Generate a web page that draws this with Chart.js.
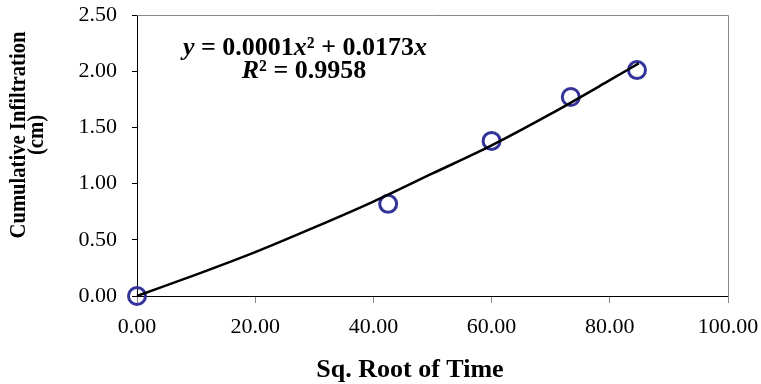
<!DOCTYPE html>
<html>
<head>
<meta charset="utf-8">
<script src="https://cdn.jsdelivr.net/npm/chart.js@4.4.1/dist/chart.umd.min.js"></script>
<style>
  html, body { margin: 0; padding: 0; background: #fff; }
</style>
</head>
<body>
<canvas id="infChart" width="761" height="384"></canvas>
<script>
// valores
var sqrtTime = [0, 42.5, 60.0, 73.4, 84.6];
var cumInfiltration = [0, 0.82, 1.38, 1.77, 2.01];

// linea de tendencia polinomica
var trendX = [0, 10, 20, 30, 40, 50, 60, 70, 80, 84.9];
var trendY = [0, 0.19, 0.39, 0.61, 0.84, 1.09, 1.34, 1.62, 1.92, 2.07];

var xTicks = [0, 20, 40, 60, 80, 100];
var yTicks = [0, 0.5, 1, 1.5, 2, 2.5];

var xTitle = 'Sq. Root of Time';
var yTitle = ['Cumulative Infiltration', '(cm)'];
// [texto, cursiva]
var eqLine1 = [['y', true], [' = 0.0001', false], ['x', true], ['\u00b2', false], [' + 0.0173', false], ['x', true]];
var eqLine2 = [['R', true], ['\u00b2 = 0.9958', false]];

var serif = "'Liberation Serif', 'Times New Roman', serif";

function drawRich(ctx, parts, cx, y, size) {
    var w = 0;
    parts.forEach(function (p) {
        ctx.font = (p[1] ? 'italic ' : '') + 'bold ' + size + 'px ' + serif;
        w += ctx.measureText(p[0]).width;
    });
    var x = cx - w / 2;
    ctx.textAlign = 'left';
    parts.forEach(function (p) {
        ctx.font = (p[1] ? 'italic ' : '') + 'bold ' + size + 'px ' + serif;
        ctx.fillText(p[0], x, y);
        x += ctx.measureText(p[0]).width;
    });
}

var extras = {
    id: 'extras',
    beforeDatasetsDraw: function (chart) {
        var a = chart.chartArea, ctx = chart.ctx;
        ctx.save();
        ctx.strokeStyle = '#888';
        ctx.lineWidth = 1;
        ctx.beginPath();
        ctx.moveTo(a.left, a.top + 0.5);
        ctx.lineTo(a.right + 0.5, a.top + 0.5);
        ctx.lineTo(a.right + 0.5, a.bottom + 7);
        ctx.stroke();
        ctx.restore();
    },
    afterDraw: function (chart) {
        var a = chart.chartArea, ctx = chart.ctx;
        ctx.save();
        ctx.fillStyle = '#000';
        ctx.textBaseline = 'alphabetic';

        // ecuacion
        drawRich(ctx, eqLine1, a.left + 168, a.top + 40, 26);
        drawRich(ctx, eqLine2, a.left + 167, a.top + 63, 26);

        // titulo eje x
        ctx.font = 'bold 26px ' + serif;
        ctx.textAlign = 'center';
        ctx.fillText(xTitle, 410, 377);

        // titulo eje y (rotado)
        ctx.font = 'bold 24px ' + serif;
        [25, 43].forEach(function (bx, i) {
            ctx.save();
            ctx.translate(bx, 135);
            ctx.rotate(-Math.PI / 2);
            ctx.scale(0.86, 1);
            ctx.fillText(yTitle[i], 0, 0);
            ctx.restore();
        });
        ctx.restore();
    }
};

var ctx = document.getElementById('infChart');
var myChart = new Chart(ctx, {
    type: 'scatter',
    data: {
        datasets: [{
            label: 'Tendencia',
            data: trendX.map(function (x, i) { return { x: x, y: trendY[i] }; }),
            showLine: true,
            pointRadius: 0,
            borderColor: '#000',
            borderWidth: 2.5,
            tension: 0.4,
            cubicInterpolationMode: 'monotone',
            fill: false,
            clip: false
        }, {
            label: 'Infiltracion',
            data: sqrtTime.map(function (x, i) { return { x: x, y: cumInfiltration[i] }; }),
            pointStyle: 'circle',
            pointRadius: 8.5,
            pointBorderWidth: 3,
            pointBorderColor: '#333399',
            pointBackgroundColor: 'rgba(0,0,0,0)',
            clip: false
        }]
    },
    options: {
        responsive: false,
        animation: false,
        layout: { padding: { left: 0, top: 15, right: 33, bottom: 0 } },
        plugins: {
            legend: { display: false },
            tooltip: { enabled: false }
        },
        scales: {
            x: {
                type: 'linear',
                min: 0,
                max: 100,
                afterBuildTicks: function (s) { s.ticks = xTicks.map(function (v) { return { value: v }; }); },
                afterFit: function (s) { s.height = 88; s.paddingLeft = 0; s.paddingRight = 0; s.paddingTop = 0; s.paddingBottom = 0; },
                grid: { drawOnChartArea: false, tickLength: 7, color: '#888' },
                border: { color: '#000', width: 1 },
                ticks: {
                    font: { family: serif, size: 22 },
                    color: '#000',
                    padding: 11,
                    maxRotation: 0,
                    autoSkip: false,
                    callback: function (v) { return Number(v).toFixed(2); }
                }
            },
            y: {
                type: 'linear',
                min: 0,
                max: 2.5,
                afterBuildTicks: function (s) { s.ticks = yTicks.map(function (v) { return { value: v }; }); },
                afterFit: function (s) { s.width = 137; s.paddingTop = 0; s.paddingBottom = 0; s.paddingLeft = 0; s.paddingRight = 0; },
                grid: { drawOnChartArea: false, tickLength: 5, color: '#000' },
                border: { color: '#000', width: 1 },
                ticks: {
                    font: { family: serif, size: 22 },
                    color: '#000',
                    padding: 15,
                    autoSkip: false,
                    callback: function (v) { return Number(v).toFixed(2); }
                }
            }
        }
    },
    plugins: [extras]
});
</script>
</body>
</html>
